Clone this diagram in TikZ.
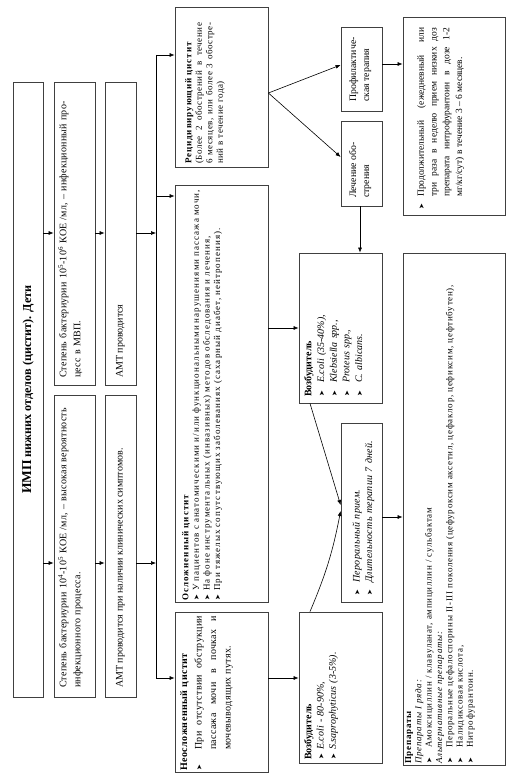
\documentclass[tikz,border=0pt]{standalone}
\usepackage{fontspec}
\setmainfont{Liberation Serif}
\newfontfamily\dv{DejaVu Sans}
\newfontfamily\lsA{Liberation Serif}[LetterSpace=2]
\newfontfamily\lsB{Liberation Serif}[LetterSpace=3]
\newfontfamily\lsC{Liberation Serif}[LetterSpace=5]
\newfontfamily\lsD{Liberation Serif}[LetterSpace=6]
\newfontfamily\lsE{Liberation Serif}[LetterSpace=8]
\newfontfamily\lsF{Liberation Serif}[LetterSpace=10]
\newfontfamily\lsG{Liberation Serif}[LetterSpace=12]
\usetikzlibrary{arrows.meta,calc}
\setlength{\parindent}{0pt}
\newcommand\bul{{\dv\fontsize{7}{7}\selectfont ➤}}
\newcommand\itm[2]{\par\hangindent=#1pt\hangafter=1\noindent\makebox[#1pt][l]{\kern0.5pt\bul}#2\par}
\newcommand\bx[5]{\node[boxst, minimum width={#4pt-#2pt}, minimum height={#5pt-#3pt}] (#1) at ({(#2+#4)/2},{(#3+#5)/2}) {};}
\tikzset{
 boxst/.style={draw=black!75, line width=0.8pt, inner sep=0pt, rectangle},
 txt/.style={inner sep=0pt, rotate=90, anchor=north west, align=left},
 arr/.style={-{Latex[length=5pt,width=4pt]}, line width=0.6pt},
 ln/.style={line width=0.6pt},
}
\begin{document}
\begin{tikzpicture}[x=1pt,y=-1pt]
\useasboundingbox[fill=white] (0,0) rectangle (510,778);
% boxes
\bx{T}{13}{82}{43}{697}
\bx{B1}{54}{395}{95}{697}
\bx{B2}{54}{82}{95}{385}
\bx{C1}{105}{395}{136}{697}
\bx{C2}{105}{82}{136}{385}
\bx{Drec}{175}{7}{268}{167}
\bx{Dcomp}{175}{185}{268}{602}
\bx{Dunc}{175}{612}{268}{772}
\bx{P}{341}{27}{382}{111}
\bx{L}{341}{121}{382}{206}
\bx{Long}{403}{17}{505}{215}
\bx{V1}{299}{253}{382}{403}
\bx{V2}{299}{612}{382}{763}
\bx{Per}{341}{423}{382}{602}
\bx{Prep}{403}{253}{505}{765}
% texts
\node[txt, anchor=center, align=center] at (28,389.5) {{\fontsize{13.5}{16}\selectfont\bfseries ИМП} {\fontsize{12.2}{14}\selectfont\bfseries нижних отделов (цистит). Дети}};
\node[txt, text width=290pt, font=\lsA\fontsize{10}{14}\selectfont] at (58,688) {Степень бактериурии 10\textsuperscript{4}-10\textsuperscript{5} КОЕ /мл, – высокая вероятность\\инфекционного процесса.};
\node[txt, text width=290pt, font=\lsA\fontsize{10}{14}\selectfont] at (58,378) {Степень бактериурии 10\textsuperscript{5}-10\textsuperscript{6} КОЕ /мл, – инфекционный про-\\цесс в МВП.};
\node[txt, anchor=west, font=\fontsize{10}{14}\selectfont] at (120.5,688) {АМТ проводится при наличии клинических симптомов.};
\node[txt, anchor=west, font=\fontsize{10}{14}\selectfont] at (120.5,378) {АМТ проводится};
\node[txt, text width=141pt, align=justify, font=\lsD\fontsize{9}{10.5}\selectfont] at (185,164) {{\lsF\bfseries Рецидивирующий цистит}\par (Более 2 обострений в течение\linebreak 6 месяцев, или более 3 обостре-\linebreak ний в течение года)};
\node[txt, text width=415pt, font=\lsG\fontsize{9}{10.6}\selectfont] at (182,601) {{\bfseries Осложненный цистит}\par
\itm{10}{У пациентов с анатомическими и/или функциональными нарушениями пассажа мочи,}
\itm{10}{На фоне инструментальных (инвазивных) методов обследования и лечения,}
\itm{10}{При тяжелых сопутствующих заболеваниях (сахарный диабет, нейтропения).}};
\node[txt, text width=155pt, align=justify, font=\lsB\fontsize{10}{14.5}\selectfont] at (180,771) {{\lsC\bfseries Неосложненный цистит}\par
\itm{21}{При отсутствии обструкции\linebreak пассажа мочи в почках и\linebreak мочевыводящих путях.}};
\node[txt, font=\fontsize{9.8}{13}\selectfont] at (349,102) {Профилактиче-\\ская терапия};
\node[txt, font=\fontsize{9.8}{13}\selectfont] at (349,198) {Лечение обо-\\стрения};
\node[txt, text width=182pt, align=justify, font=\fontsize{9.5}{12.7}\selectfont] at (411,210) {\itm{13}{Продолжительный (ежедневный или\linebreak три раза в неделю прием низких доз\linebreak препарата нитрофурантоин в дозе 1-2\linebreak мг/кг/сут) в течение 3 – 6 месяцев.}};
\node[txt, text width=140pt, font=\fontsize{10}{12.7}\selectfont] at (304,397) {{\bfseries Возбудитель}\par
\itm{14}{\textit{E.coli (35-40\%),}}
\itm{14}{\textit{Klebsiella spp.,}}
\itm{14}{\textit{Proteus spp.,}}
\itm{14}{\textit{C. albicans.}}};
\node[txt, text width=140pt, font=\fontsize{10}{12.2}\selectfont] at (304,760) {{\bfseries Возбудитель}\par
\itm{10}{\textit{E.coli - 80-90\%,}}
\itm{10}{\textit{S.saprophyticus (3-5\%).}}};
\node[txt, text width=170pt, font=\lsB\fontsize{10}{12.5}\selectfont] at (347,596) {\itm{13}{\textit{Пероральный прием.}}
\itm{13}{\textit{Длительность терапии 7 дней.}}};
\node[txt, text width=505pt, font=\lsE\fontsize{9}{10.3}\selectfont] at (405,764) {{\bfseries Препараты}\par
\textit{Препараты I ряда:}\par
\itm{16}{Амоксициллин / клавуланат, ампициллин / сульбактам}
\textit{Альтернативные препараты:}\par
\itm{16}{Пероральные цефалоспорины II-III поколения (цефуроксим аксетил, цефаклор, цефиксим, цефтибутен),}
\itm{16}{Налидиксовая кислота,}
\itm{16}{Нитрофурантоин.}};
% connectors
\coordinate (bus) at (156,0);
\coordinate (ya) at (0,563);
\coordinate (yb) at (0,233);
\draw[arr] (T.east |- ya) -- (B1.west |- ya);
\draw[arr] (T.east |- yb) -- (B2.west |- yb);
\draw[arr] (B1.east |- ya) -- (C1.west |- ya);
\draw[arr] (B2.east |- yb) -- (C2.west |- yb);
\draw[arr] (C1.east |- ya) -- (bus |- ya);
\draw[arr] (C2.east |- yb) -- (bus |- yb);
\coordinate (b1) at (156,55);
\coordinate (b2) at (156,196);
\coordinate (b3) at (156,678);
\draw[ln] (b1) -- (b3);
\draw[arr] (b1) -- (b1 -| Drec.west);
\draw[arr] (b2) -- (b2 -| Dcomp.west);
\draw[arr] (b3) -- (b3 -| Dunc.west);
\coordinate (y93) at (0,93);
\coordinate (y65) at (0,65);
\coordinate (y157) at (0,157);
\coordinate (y64) at (0,64);
\coordinate (x360) at (360,0);
\coordinate (x310) at (310,0);
\coordinate (y328) at (0,328);
\coordinate (y505) at (0,505);
\coordinate (y511) at (0,511);
\coordinate (y517) at (0,517);
\draw[arr] (Drec.east |- y93) -- (P.west |- y65);
\draw[arr] (Drec.east |- y93) -- (L.west |- y157);
\draw[arr] (P.east |- y64) -- (Long.west |- y64);
\draw[arr] (L.south -| x360) -- (V1.north -| x360);
\draw[arr] (Dcomp.east |- y328) -- (V1.west |- y328);
\draw[arr] (Dunc.east |- b3) -- (V2.west |- b3);
\draw[arr] (V1.south -| x310) -- (Per.west |- y505);
\draw[arr] (V2.north -| x310) to[bend right=6] (Per.west |- y511);
\draw[arr] (Per.east |- y517) -- (Prep.west |- y517);
\end{tikzpicture}
\end{document}
